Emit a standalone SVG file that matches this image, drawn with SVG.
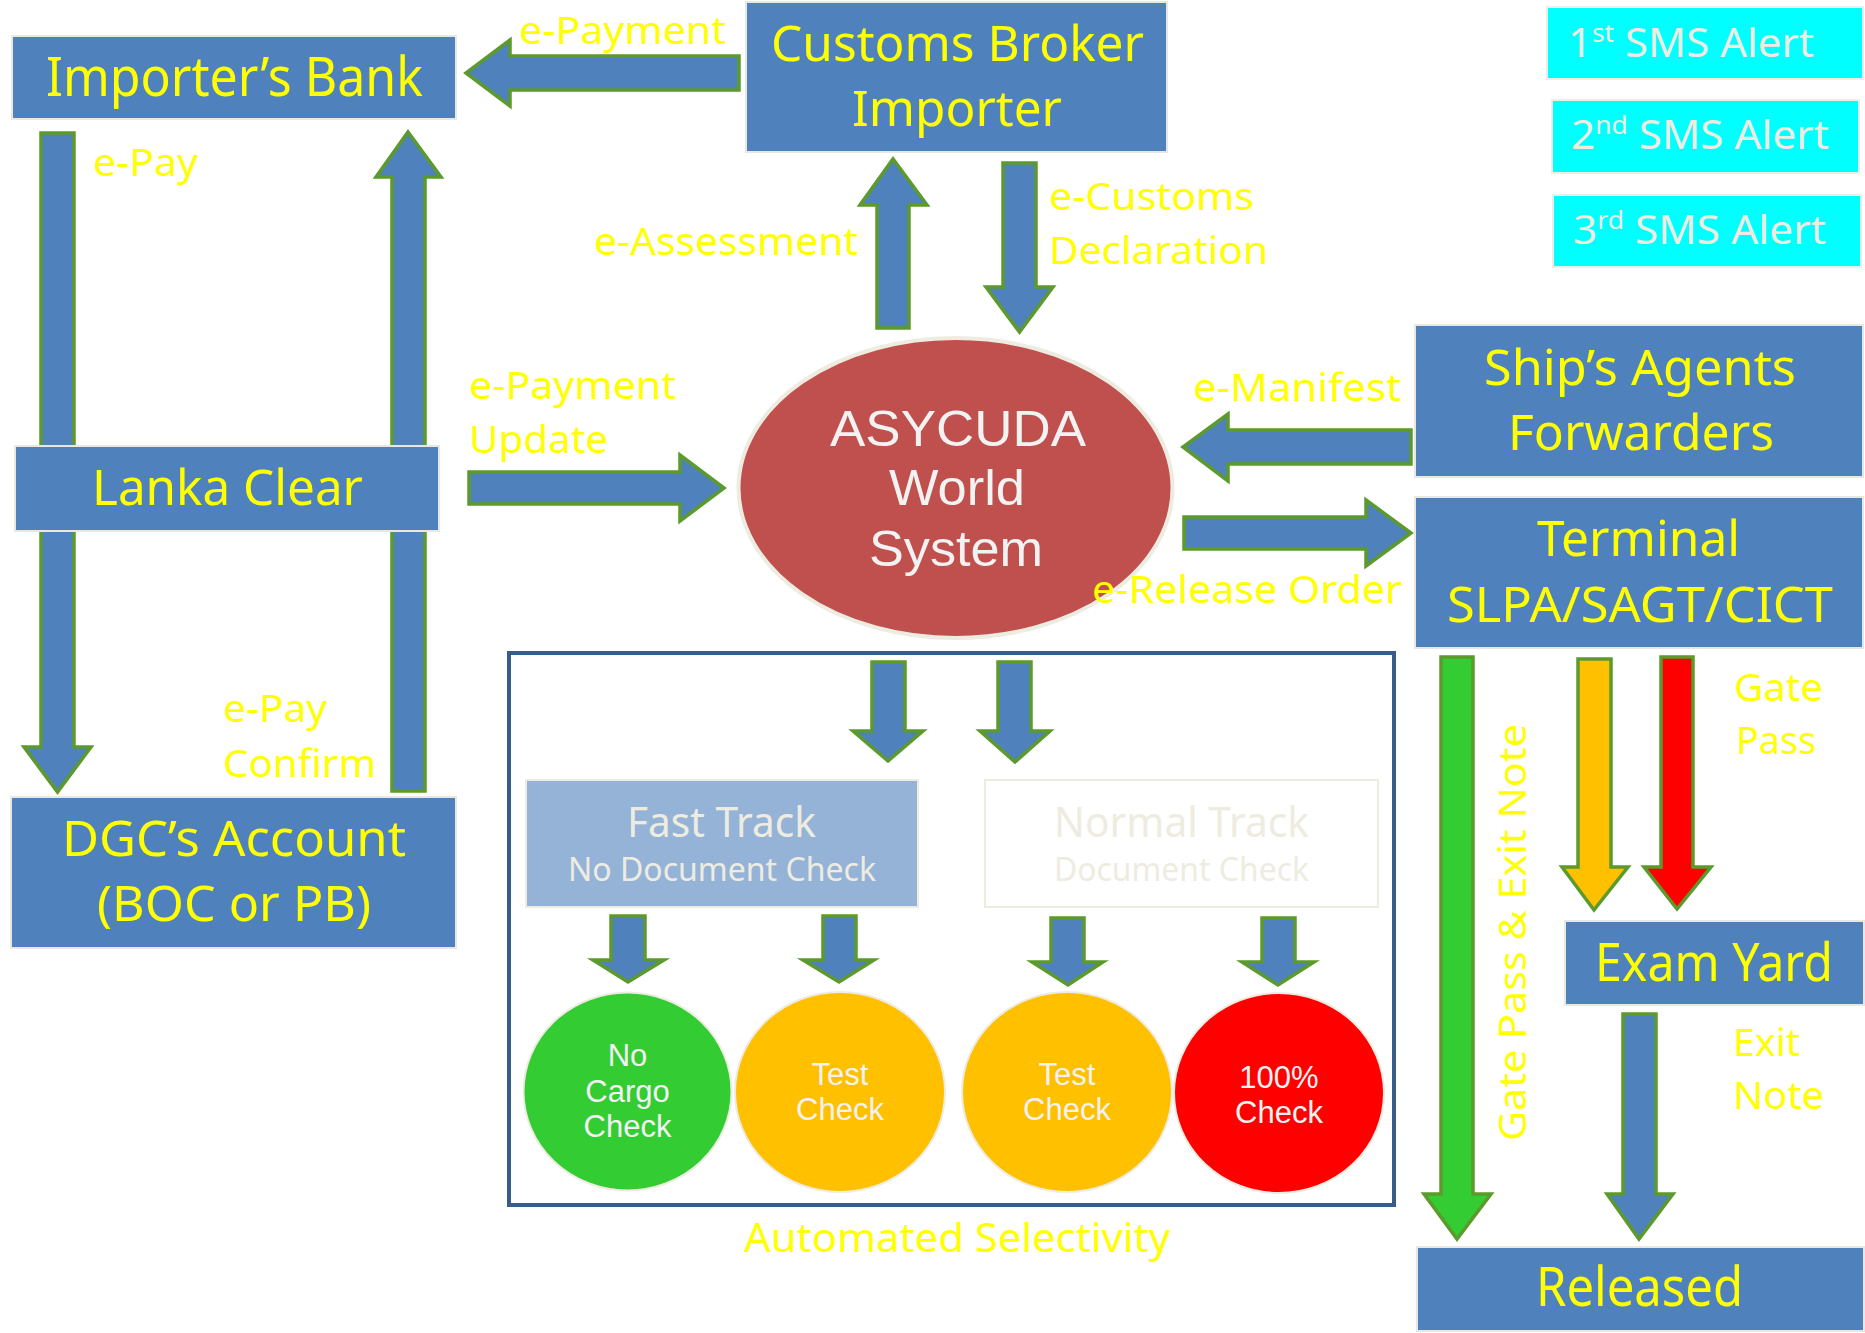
<svg xmlns="http://www.w3.org/2000/svg" width="1865" height="1333" viewBox="0 0 1865 1333">
<style>
.box{fill:#4F81BD;stroke:#E8E8E0;stroke-width:2}
.sms{fill:#00FFFF;stroke:#E8F0E8;stroke-width:2}
.arr{fill:#4F81BD;stroke:#5C9A2C;stroke-width:3.5;stroke-linejoin:miter}
.t{font-family:"Noto Sans","Open Sans",sans-serif;fill:#FFFF00}
.w{font-family:"Noto Sans","Open Sans",sans-serif;fill:#EEECE1}
.a{font-family:"Liberation Sans",Arial,sans-serif;fill:#F2F2F2;font-size:50px}
.c{font-family:"Liberation Sans",Arial,sans-serif;fill:#F2F2F2;font-size:31px;text-anchor:middle}
.lbl{font-family:"Noto Sans","Open Sans",sans-serif;fill:#FFFF00;font-size:39px}
.circ{stroke:#EEECE1;stroke-width:2}
</style>
<rect width="1865" height="1333" fill="#FFFFFF"/>
<g id="connectors">
<polygon class="arr" points="739,56 510,56 510,40 466,73 510,106 510,90 739,90"/>
<polygon class="arr" points="41,133 74,133 74,747 91,747 57.5,792 24,747 41,747"/>
<polygon class="arr" points="392,791 392,177 376,177 408,132 441,177 425,177 425,791"/>
<polygon class="arr" points="469,472 680,472 680,455 724,488 680,521 680,504 469,504"/>
<polygon class="arr" points="877,328 877,205 860,205 893,159 927,205 909,205 909,328"/>
<polygon class="arr" points="1003,163 1036,163 1036,287 1053,287 1019.5,332 986,287 1003,287"/>
<polygon class="arr" points="1411,430 1228,430 1228,414 1183,447 1228,481 1228,464 1411,464"/>
<polygon class="arr" points="1184,517 1366,517 1366,500 1411,533 1366,566 1366,549 1184,549"/>
<polygon class="arr" points="872,662 905,662 905,731 923,731 888,761 853,731 872,731"/>
<polygon class="arr" points="998,662 1031,662 1031,731 1050,731 1015,762 980,731 998,731"/>
<polygon class="arr" points="611,916 645,916 645,960 664,960 628,982 593,960 611,960"/>
<polygon class="arr" points="823,916 856,916 856,960 874,960 839,982 803,960 823,960"/>
<polygon class="arr" points="1051,918 1084,918 1084,962 1103,962 1068,985 1032,962 1051,962"/>
<polygon class="arr" points="1262,918 1295,918 1295,962 1314,962 1278,985 1242,962 1262,962"/>
<polygon class="arr" style="fill:#33CC33" points="1441,657 1473,657 1473,1194 1491,1194 1457,1239 1424,1194 1441,1194"/>
<polygon class="arr" style="fill:#FFC000" points="1578,659 1611,659 1611,867 1628,867 1594,910 1562,867 1578,867"/>
<polygon class="arr" style="fill:#FF0000" points="1661,657 1693,657 1693,867 1711,867 1677,909 1644,867 1661,867"/>
<polygon class="arr" points="1623,1014 1656,1014 1656,1194 1673,1194 1639,1239 1607,1194 1623,1194"/>
</g>
<g id="importers-bank">
<rect class="box" x="12" y="36" width="444" height="83"/>
<text class="t" x="46" y="96" font-size="54" textLength="377" lengthAdjust="spacingAndGlyphs">Importer’s Bank</text>
</g>
<g id="customs-broker">
<rect class="box" x="746" y="2" width="421" height="150"/>
<text class="t" x="771" y="61" font-size="50" textLength="373" lengthAdjust="spacingAndGlyphs">Customs Broker</text>
<text class="t" x="852" y="126" font-size="50" textLength="210" lengthAdjust="spacingAndGlyphs">Importer</text>
</g>
<g id="sms1">
<rect class="sms" x="1547" y="7" width="316" height="72"/>
<text class="w" x="1568" y="57" font-size="40" textLength="246" lengthAdjust="spacingAndGlyphs">1<tspan font-size="25" dy="-15">st</tspan><tspan dy="15"> SMS Alert</tspan></text>
</g>
<g id="sms2">
<rect class="sms" x="1552" y="100" width="307" height="73"/>
<text class="w" x="1571" y="149" font-size="40" textLength="258" lengthAdjust="spacingAndGlyphs">2<tspan font-size="25" dy="-15">nd</tspan><tspan dy="15"> SMS Alert</tspan></text>
</g>
<g id="sms3">
<rect class="sms" x="1553" y="195" width="308" height="72"/>
<text class="w" x="1573" y="244" font-size="40" textLength="253" lengthAdjust="spacingAndGlyphs">3<tspan font-size="25" dy="-15">rd</tspan><tspan dy="15"> SMS Alert</tspan></text>
</g>
<g id="asycuda">
<ellipse cx="955.5" cy="488" rx="217" ry="150" fill="#C0504D" stroke="#EEECE1" stroke-width="4"/>
<text class="a" x="830" y="446" textLength="256" lengthAdjust="spacingAndGlyphs">ASYCUDA</text>
<text class="a" x="889" y="505" textLength="136" lengthAdjust="spacingAndGlyphs">World</text>
<text class="a" x="869" y="566" textLength="174" lengthAdjust="spacingAndGlyphs">System</text>
</g>
<g id="ships-agents">
<rect class="box" x="1415" y="325" width="448" height="152"/>
<text class="t" x="1484" y="385" font-size="50" textLength="312" lengthAdjust="spacingAndGlyphs">Ship’s Agents</text>
<text class="t" x="1508" y="450" font-size="50" textLength="266" lengthAdjust="spacingAndGlyphs">Forwarders</text>
</g>
<g id="terminal">
<rect class="box" x="1415" y="497" width="448" height="151"/>
<text class="t" x="1537" y="556" font-size="50" textLength="203" lengthAdjust="spacingAndGlyphs">Terminal</text>
<text class="t" x="1447" y="622" font-size="50" textLength="386" lengthAdjust="spacingAndGlyphs">SLPA/SAGT/CICT</text>
</g>
<g id="lanka-clear">
<rect class="box" x="15" y="446" width="424" height="85"/>
<text class="t" x="92" y="505" font-size="50" textLength="271" lengthAdjust="spacingAndGlyphs">Lanka Clear</text>
</g>
<g id="dgc-account">
<rect class="box" x="11" y="797" width="445" height="151"/>
<text class="t" x="62" y="856" font-size="50" textLength="344" lengthAdjust="spacingAndGlyphs">DGC’s Account</text>
<text class="t" x="97" y="921" font-size="50" textLength="274" lengthAdjust="spacingAndGlyphs">(BOC or PB)</text>
</g>
<g id="automated-selectivity">
<rect x="509" y="653" width="885" height="552" fill="none" stroke="#385D8A" stroke-width="4"/>
<text class="t" x="744" y="1252" font-size="40" textLength="426" lengthAdjust="spacingAndGlyphs">Automated Selectivity</text>
</g>
<g id="fast-track">
<rect x="526" y="780" width="392" height="127" fill="#95B3D7" stroke="#EEECE1" stroke-width="2"/>
<text class="w" x="627" y="837" font-size="41" textLength="189" lengthAdjust="spacingAndGlyphs">Fast Track</text>
<text class="w" x="568" y="881" font-size="32" textLength="308" lengthAdjust="spacingAndGlyphs">No Document Check</text>
</g>
<g id="normal-track">
<rect x="985" y="780" width="393" height="127" fill="#FFFFFF" stroke="#EEECE1" stroke-width="2"/>
<text class="w" x="1054" y="837" font-size="41" textLength="255" lengthAdjust="spacingAndGlyphs">Normal Track</text>
<text class="w" x="1054" y="881" font-size="32" textLength="255" lengthAdjust="spacingAndGlyphs">Document Check</text>
</g>
<g id="no-cargo-check">
<ellipse class="circ" cx="627.5" cy="1091.5" rx="104" ry="99" fill="#33CC33"/>
<text class="c" x="627.5" y="1066">No</text>
<text class="c" x="627.5" y="1102">Cargo</text>
<text class="c" x="627.5" y="1137">Check</text>
</g>
<g id="test-check-fast">
<ellipse class="circ" cx="840" cy="1092" rx="105" ry="100" fill="#FFC000"/>
<text class="c" x="840" y="1085">Test</text>
<text class="c" x="840" y="1120">Check</text>
</g>
<g id="test-check-normal">
<ellipse class="circ" cx="1067" cy="1092" rx="105" ry="100" fill="#FFC000"/>
<text class="c" x="1067" y="1085">Test</text>
<text class="c" x="1067" y="1120">Check</text>
</g>
<g id="full-check">
<ellipse class="circ" cx="1279" cy="1093" rx="105" ry="100" fill="#FF0000"/>
<text class="c" x="1279" y="1088">100%</text>
<text class="c" x="1279" y="1123">Check</text>
</g>
<g id="exam-yard">
<rect class="box" x="1565" y="921" width="299" height="84"/>
<text class="t" x="1595" y="981" font-size="52" textLength="238" lengthAdjust="spacingAndGlyphs">Exam Yard</text>
</g>
<g id="released">
<rect class="box" x="1417" y="1247" width="447" height="84"/>
<text class="t" x="1536" y="1306" font-size="54" textLength="207" lengthAdjust="spacingAndGlyphs">Released</text>
</g>
<g id="labels">
<text class="lbl" x="519" y="44" textLength="207" lengthAdjust="spacingAndGlyphs">e-Payment</text>
<text class="lbl" x="93" y="176" textLength="105" lengthAdjust="spacingAndGlyphs">e-Pay</text>
<text class="lbl" x="594" y="255" textLength="264" lengthAdjust="spacingAndGlyphs">e-Assessment</text>
<text class="lbl" x="1049" y="210" textLength="205" lengthAdjust="spacingAndGlyphs">e-Customs</text>
<text class="lbl" x="1049" y="264" textLength="219" lengthAdjust="spacingAndGlyphs">Declaration</text>
<text class="lbl" x="469" y="399" textLength="207" lengthAdjust="spacingAndGlyphs">e-Payment</text>
<text class="lbl" x="469" y="453" textLength="139" lengthAdjust="spacingAndGlyphs">Update</text>
<text class="lbl" x="1193" y="401" textLength="208" lengthAdjust="spacingAndGlyphs">e-Manifest</text>
<text class="lbl" x="1092" y="603" textLength="310" lengthAdjust="spacingAndGlyphs">e-Release Order</text>
<text class="lbl" x="223" y="722" textLength="104" lengthAdjust="spacingAndGlyphs">e-Pay</text>
<text class="lbl" x="223" y="777" textLength="153" lengthAdjust="spacingAndGlyphs">Confirm</text>
<text class="lbl" x="1734" y="701" font-size="41" textLength="89" lengthAdjust="spacingAndGlyphs">Gate</text>
<text class="lbl" x="1736" y="754" font-size="41" textLength="80" lengthAdjust="spacingAndGlyphs">Pass</text>
<text class="lbl" x="1733" y="1056" font-size="41" textLength="67" lengthAdjust="spacingAndGlyphs">Exit</text>
<text class="lbl" x="1733" y="1109" font-size="41" textLength="91" lengthAdjust="spacingAndGlyphs">Note</text>
<text class="lbl" transform="translate(1526,932.5) rotate(-90)" x="0" y="0" font-size="46" text-anchor="middle" textLength="417" lengthAdjust="spacingAndGlyphs">Gate Pass &amp; Exit Note</text>
</g>
</svg>
